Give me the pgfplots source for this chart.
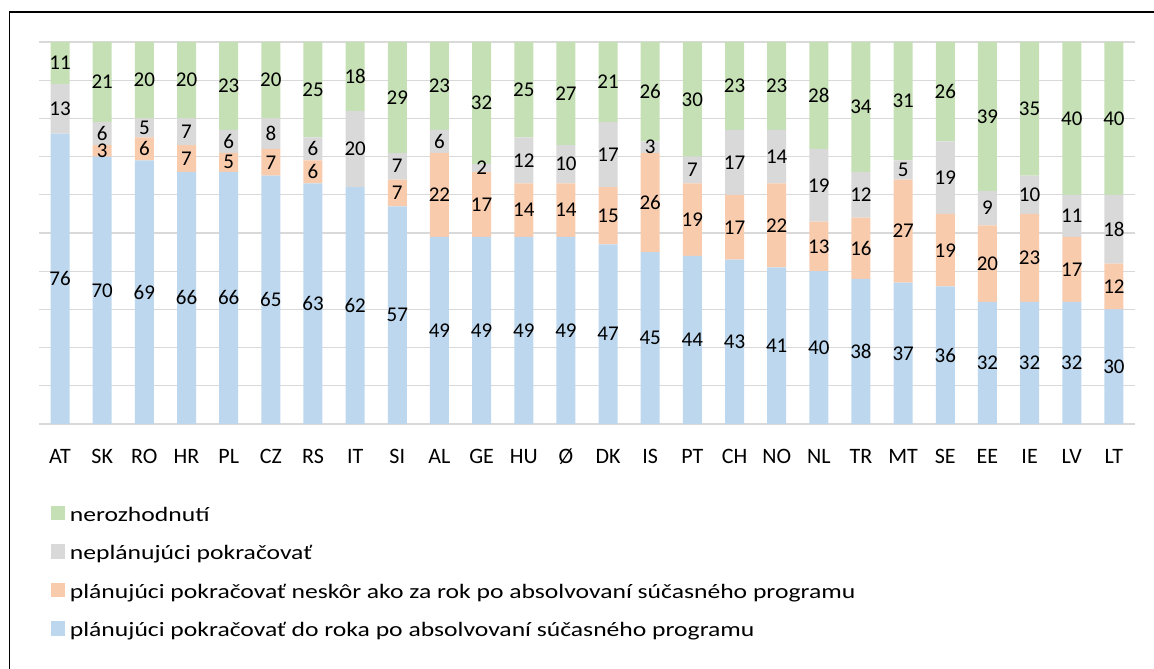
\documentclass[border=0pt]{standalone}
\usepackage{pgfplots}
\pgfplotsset{compat=1.18}
\usepackage{pgfplotstable}
\usepackage{fontspec}
\setmainfont{Carlito}
\newfontfamily\legfont[FakeStretch=1.25]{Carlito}
\definecolor{cblue}{RGB}{189,215,238}
\definecolor{corange}{RGB}{248,203,173}
\definecolor{cgray}{RGB}{217,217,217}
\definecolor{cgreen}{RGB}{197,224,180}
\newcommand{\fsz}{\fontsize{21bp}{24bp}\selectfont}
\newcommand{\tsz}{\fontsize{22bp}{25bp}\selectfont}
\newcommand{\lsz}{\legfont\fontsize{20.5bp}{24bp}\selectfont}
\pgfplotstableread{
i blue orange gray green
0 76 0 13 11
1 70 3 6 21
2 69 6 5 20
3 66 7 7 20
4 66 5 6 23
5 65 7 8 20
6 63 6 6 25
7 62 0 20 18
8 57 7 7 29
9 49 22 6 23
10 49 17 2 32
11 49 14 12 25
12 49 14 10 27
13 47 15 17 21
14 45 26 3 26
15 44 19 7 30
16 43 17 17 23
17 41 22 14 23
18 40 13 19 28
19 38 16 12 34
20 37 27 5 31
21 36 19 19 26
22 32 20 9 39
23 32 23 10 35
24 32 17 11 40
25 30 12 18 40
}\datatable
\pgfplotsset{myleg/.style={legend image code/.code={\fill[##1] (0bp,-3.5bp) rectangle (14bp,11bp);}}}
\begin{document}
\begin{tikzpicture}[font=\fsz]
\path[use as bounding box] (0,0) rectangle (1154bp,669bp);
\draw[line width=1.7bp,black] (9.5bp,-2bp) -- (9.5bp,656.7bp) -- (1160bp,656.7bp);
\begin{axis}[
  at={(39bp,245bp)}, anchor=south west,
  scale only axis, width=1096bp, height=382bp,
  ybar stacked, bar width=19bp,
  xmin=-0.5, xmax=25.5, ymin=0, ymax=100,
  /pgf/number format/assume math mode=true,
  xtick={0,...,25},
  xticklabels={AT,SK,RO,HR,PL,CZ,RS,IT,SI,AL,GE,HU,Ø,DK,IS,PT,CH,NO,NL,TR,MT,SE,EE,IE,LV,LT},
  xticklabel style={anchor=base, yshift=-39.3bp, font=\tsz},
  ytick={0,10,...,100}, yticklabels={},
  ymajorgrids, major grid style={color=cgray, line width=1.3bp},
  axis line style={draw=none}, tick style={draw=none},
  visualization depends on=rawy\as\rawy,
  nodes near coords={\ifdim\rawy pt>0pt\relax\pgfmathprintnumber{\rawy}\fi},
  every node near coord/.append style={anchor=center, font=\fsz, text=black},
  reverse legend,
  legend cell align=left,
  legend style={at={(axis description cs:0,0)}, anchor=north west, xshift=11.7bp, yshift=-81.3bp,
    draw=none, fill=none, inner sep=0pt, row sep=18bp, column sep=5bp,
    nodes={inner sep=0pt, text height=14bp, text depth=5bp, font=\lsz}},
]
\addplot[fill=cblue, draw=none, myleg] table[x=i, y=blue] {\datatable};
\addplot[fill=corange, draw=none, myleg] table[x=i, y=orange] {\datatable};
\addplot[fill=cgray, draw=none, myleg] table[x=i, y=gray] {\datatable};
\addplot[fill=cgreen, draw=none, myleg] table[x=i, y=green] {\datatable};
\legend{plánujúci pokračovať do roka po absolvovaní súčasného programu,
plánujúci pokračovať neskôr ako za rok po absolvovaní súčasného programu,
neplánujúci pokračovať,
nerozhodnutí}
\end{axis}
\end{tikzpicture}
\end{document}
